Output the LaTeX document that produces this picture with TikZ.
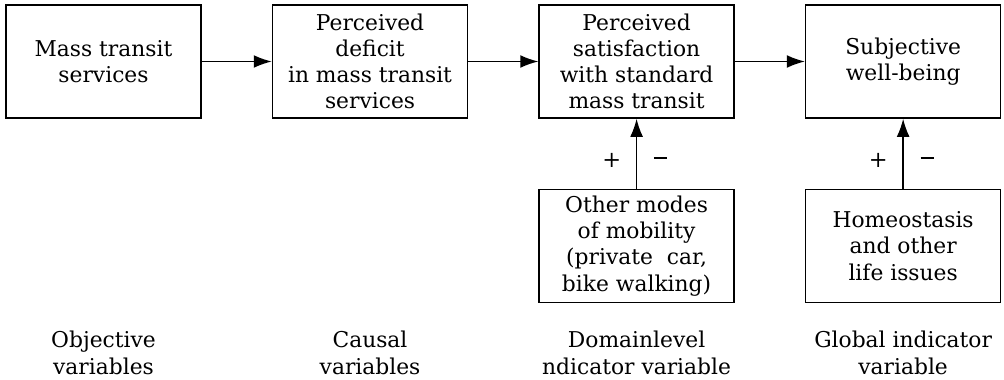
\documentclass[tikz,border=0pt]{standalone}
\usepackage{fontspec}
\setmainfont{DejaVu Serif}
\usetikzlibrary{positioning,arrows.meta}

\tikzset{
  blk/.style={draw, line width=1.1pt, minimum width=4.875cm, minimum height=2.825cm,
    align=center, inner sep=2pt, font=\fontsize{15.5}{18.6}\selectfont},
  lbl/.style={align=center, font=\fontsize{15.5}{19.5}\selectfont},
  sgn/.style={font=\fontsize{16}{18}\selectfont},
  flow/.style={-{Latex[length=0.45cm,width=0.32cm]}, line width=1pt},
}
\newcommand{\minussign}{\raisebox{0.5ex}{\rule{0.33cm}{1.6pt}}}

\begin{document}
\begin{tikzpicture}[node distance=1.75cm]
\useasboundingbox (0,0) rectangle (25.1,-9.5);
% top row
\node[blk] (mts) at (2.5875,-1.5375) {Mass transit\\services};
\node[blk, right=of mts] (def) {Perceived\\deficit\\in mass transit\\services};
\node[blk, right=of def] (sat) {Perceived\\satisfaction\\with standard\\mass transit};
\node[blk, right=of sat] (swb) {Subjective\\well-being};
% second row
\node[blk, below=of sat] (oth) {Other modes\\of mobility\\(private\ \ car,\\bike walking)};
\node[blk, below=of swb] (hom) {Homeostasis\\and other\\life issues};
% column labels
\node[lbl] (objv) at (mts |- 0,-8.825) {Objective\\variables};
\node[lbl] (caus) at (def |- 0,-8.825) {Causal\\variables};
\node[lbl] (doml) at (sat |- 0,-8.825) {Domainlevel\\ndicator variable};
\node[lbl] (glob) at (swb |- 0,-8.825) {Global indicator\\variable};
% arrows
\draw[flow] (mts) -- (def);
\draw[flow] (def) -- (sat);
\draw[flow] (sat) -- (swb);
\draw[flow] (oth) -- node[sgn, pos=0.4, xshift=-0.62cm] (pl1) {+}
  node[sgn, pos=0.4, xshift=0.6cm] (mi1) {\minussign} (sat);
\draw[flow] (hom) -- node[sgn, pos=0.4, xshift=-0.62cm] (pl2) {+}
  node[sgn, pos=0.4, xshift=0.6cm] (mi2) {\minussign} (swb);
\end{tikzpicture}
\end{document}
